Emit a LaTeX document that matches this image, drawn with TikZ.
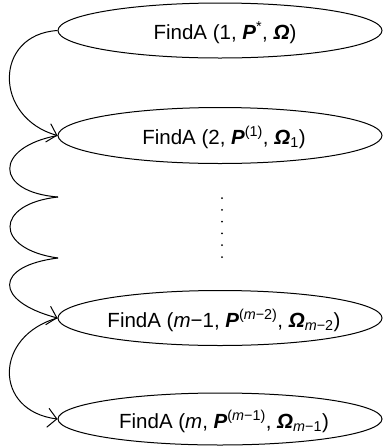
\documentclass[tikz,border=0pt]{standalone}
\usepackage{fontspec}
\setmainfont{Liberation Sans}
\usetikzlibrary{arrows.meta,shapes.geometric}
\tikzset{
  callbox/.style={draw=black, line width=1pt, ellipse, minimum width=324pt, minimum height=55pt, inner sep=0pt},
  calltext/.style={anchor=base, inner sep=0pt, font=\fontsize{20.5pt}{24pt}\selectfont},
  flow/.style={draw=black, line width=1pt},
  flowarrow/.style={flow, -{Straight Barb[length=9pt,width=19pt,line width=1pt]}},
}
\newcommand{\bP}{\textbf{\textit{P}}}
\newcommand{\bO}{\textbf{\textit{Ω}}}
\begin{document}
\begin{tikzpicture}[x=1pt,y=-1pt]
\useasboundingbox (0,0) rectangle (384,448);
\node[callbox] (e1) at (220,30.5) {};
\node[callbox, minimum height=56pt] (e2) at (220,135.5) {};
\node[callbox] (e3) at (220,318) {};
\node[callbox, minimum height=52pt] (e4) at (220,419) {};
\node[calltext] (t1) at (225,39.5) {FindA (1, \bP\textsuperscript{*}, \bO)};
\node[calltext] (t2) at (224,144.5) {FindA (2, \bP\textsuperscript{(1)}, \bO\textsubscript{1})};
\node[calltext] (t3) at (224,327.5) {FindA (\textit{m}−1, \bP\textsuperscript{(\textit{m}−2)}, \bO\textsubscript{\textit{m}−2})};
\node[calltext] (t4) at (224,428) {FindA (\textit{m}, \bP\textsuperscript{(\textit{m}−1)}, \bO\textsubscript{\textit{m}−1})};
\coordinate (c1) at (58,197);
\coordinate (c2) at (58,258);
\foreach \yy in {198,209.8,221.6,233.4,245.2,257} \fill (222,\yy) circle (1pt);
\draw[flowarrow] (e1.west) .. controls +(-64,4) and +(-64,-18) .. (e2.west);
\draw[flow] (e2.west) .. controls +(-64,12) and +(-64,-5) .. (c1);
\draw[flow] (c1) .. controls +(-64,7) and +(-64,-9) .. (c2);
\draw[flowarrow] (c2) .. controls +(-64,8) and +(-64,-17) .. (e3.west);
\draw[flowarrow] (e3.west) .. controls +(-64,18) and +(-64,-8) .. (e4.west);
\end{tikzpicture}
\end{document}
